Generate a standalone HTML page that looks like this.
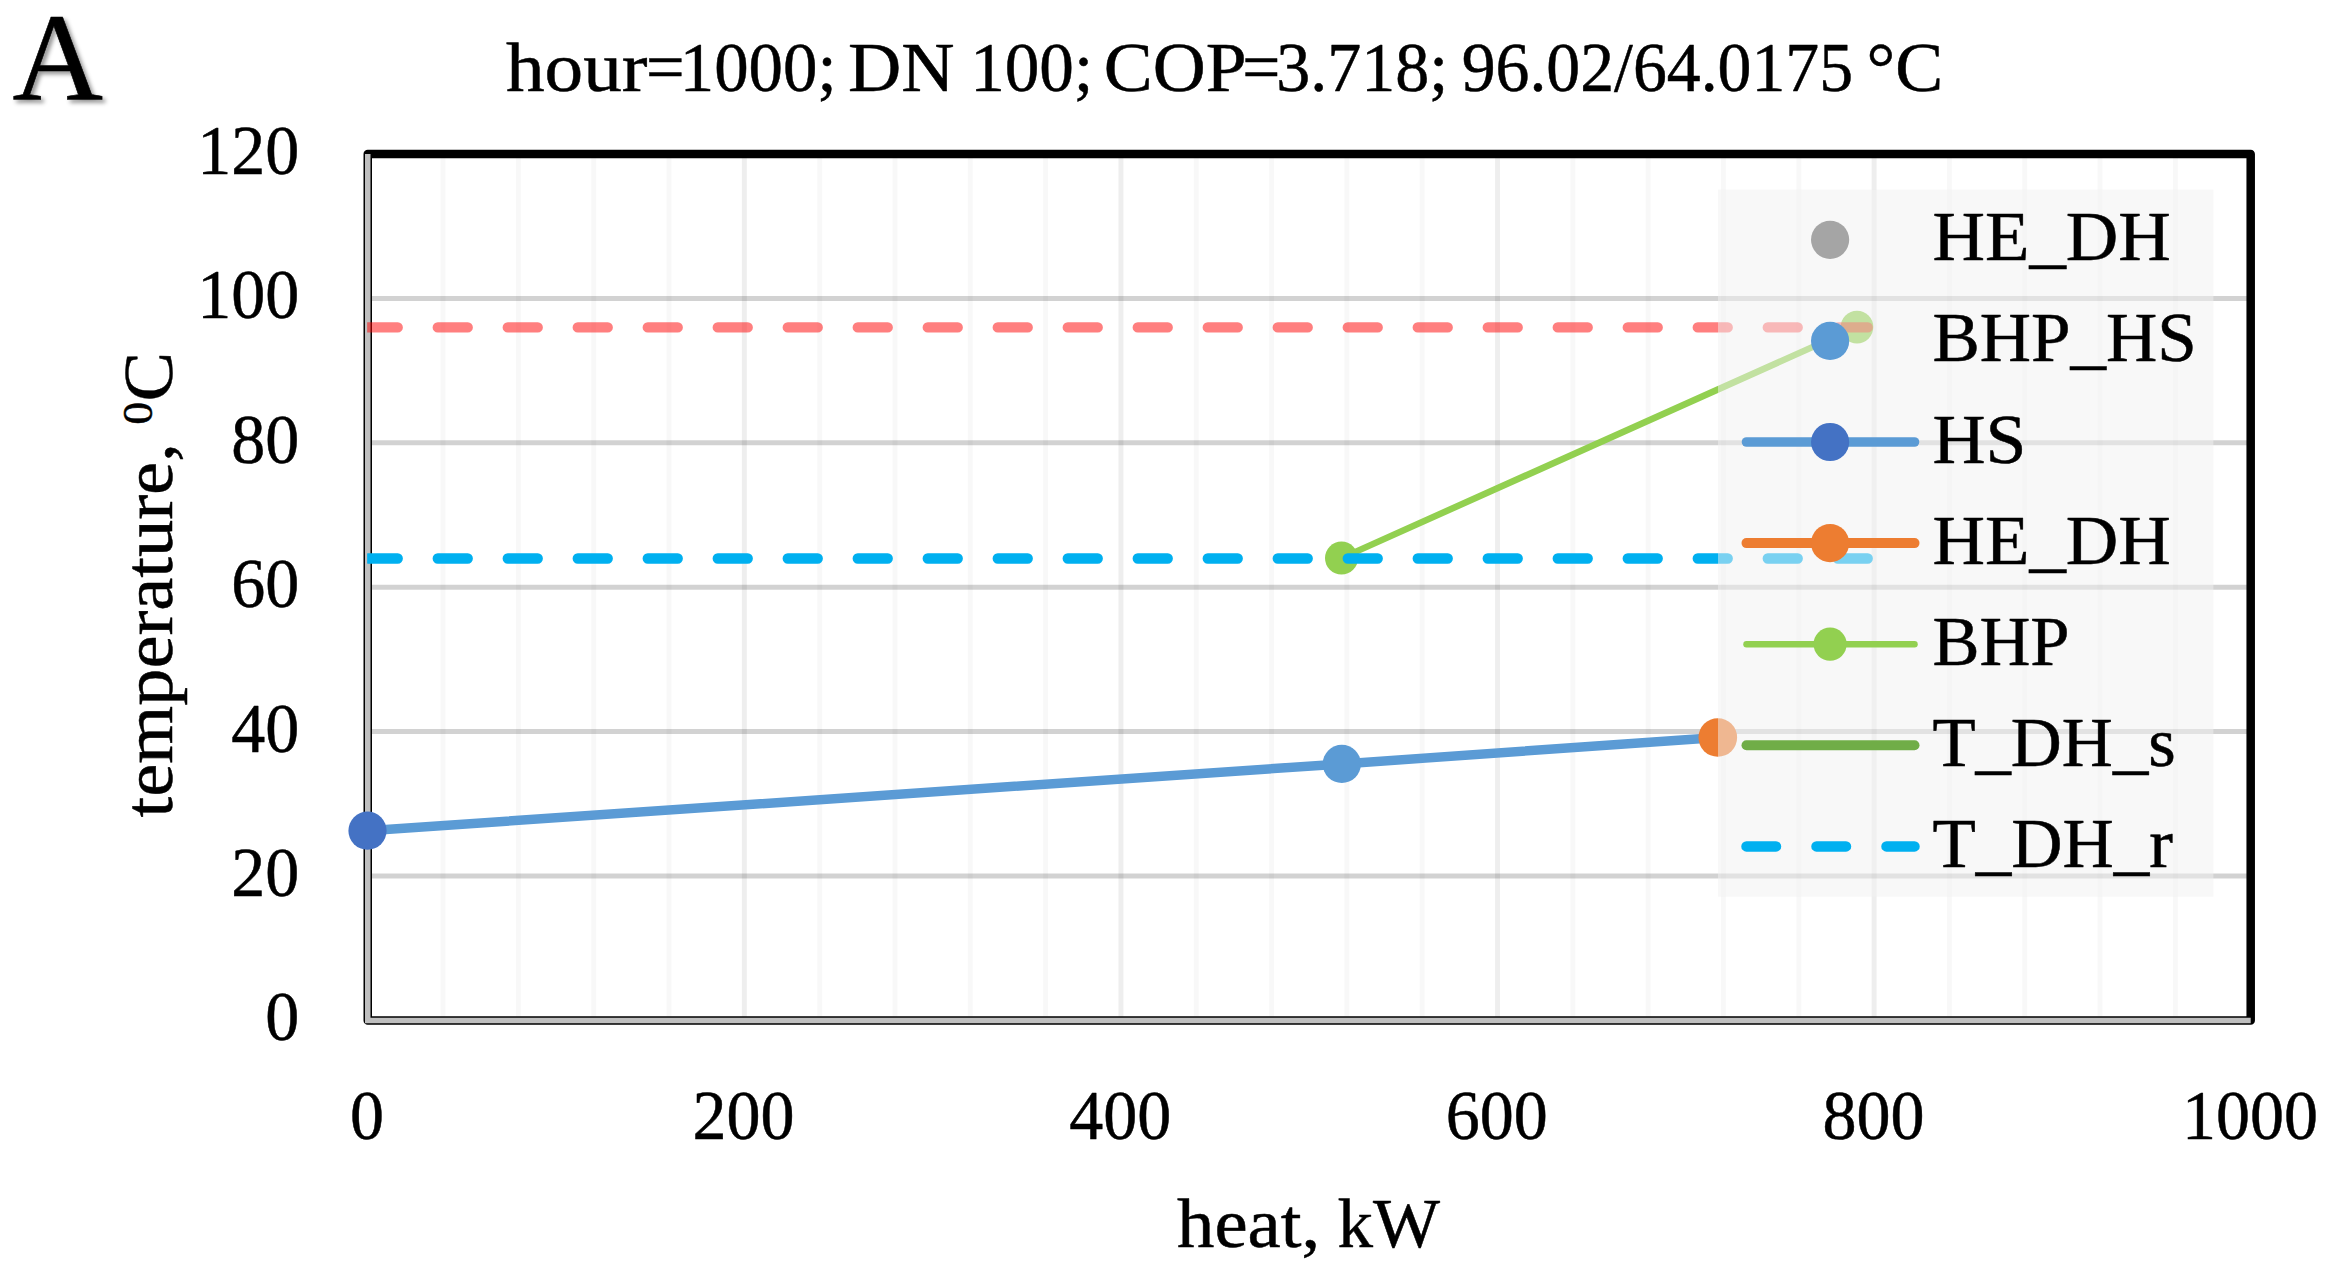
<!DOCTYPE html>
<html lang="en"><head><meta charset="utf-8"><title>hour=1000; DN 100; COP=3.718</title>
<style>html,body{margin:0;padding:0;background:#fff;}body{width:2326px;height:1280px;overflow:hidden;}svg{display:block;}text{font-family:"Liberation Serif","DejaVu Serif",serif;fill:#000;stroke:#000;stroke-width:0.5px;stroke-linejoin:round;}</style>
</head><body>
<svg width="2326" height="1280" viewBox="0 0 2326 1280">
<defs><filter id="sh" x="-20%" y="-20%" width="150%" height="150%"><feDropShadow dx="3" dy="3" stdDeviation="2.2" flood-color="#000" flood-opacity="0.42"/></filter>
<clipPath id="plot"><rect x="367.15" y="154.0" width="1883.5499999999997" height="866.4"/></clipPath></defs>
<rect width="2326" height="1280" fill="#fff"/>
<g id="grid"><line x1="443.07" y1="154.0" x2="443.07" y2="1020.4" stroke="rgba(0,0,0,0.028)" stroke-width="5"/><line x1="518.39" y1="154.0" x2="518.39" y2="1020.4" stroke="rgba(0,0,0,0.028)" stroke-width="5"/><line x1="593.70" y1="154.0" x2="593.70" y2="1020.4" stroke="rgba(0,0,0,0.028)" stroke-width="5"/><line x1="669.02" y1="154.0" x2="669.02" y2="1020.4" stroke="rgba(0,0,0,0.028)" stroke-width="5"/><line x1="744.34" y1="154.0" x2="744.34" y2="1020.4" stroke="rgba(0,0,0,0.068)" stroke-width="5"/><line x1="819.66" y1="154.0" x2="819.66" y2="1020.4" stroke="rgba(0,0,0,0.028)" stroke-width="5"/><line x1="894.98" y1="154.0" x2="894.98" y2="1020.4" stroke="rgba(0,0,0,0.028)" stroke-width="5"/><line x1="970.29" y1="154.0" x2="970.29" y2="1020.4" stroke="rgba(0,0,0,0.028)" stroke-width="5"/><line x1="1045.61" y1="154.0" x2="1045.61" y2="1020.4" stroke="rgba(0,0,0,0.028)" stroke-width="5"/><line x1="1120.93" y1="154.0" x2="1120.93" y2="1020.4" stroke="rgba(0,0,0,0.068)" stroke-width="5"/><line x1="1196.25" y1="154.0" x2="1196.25" y2="1020.4" stroke="rgba(0,0,0,0.028)" stroke-width="5"/><line x1="1271.57" y1="154.0" x2="1271.57" y2="1020.4" stroke="rgba(0,0,0,0.028)" stroke-width="5"/><line x1="1346.88" y1="154.0" x2="1346.88" y2="1020.4" stroke="rgba(0,0,0,0.028)" stroke-width="5"/><line x1="1422.20" y1="154.0" x2="1422.20" y2="1020.4" stroke="rgba(0,0,0,0.028)" stroke-width="5"/><line x1="1497.52" y1="154.0" x2="1497.52" y2="1020.4" stroke="rgba(0,0,0,0.068)" stroke-width="5"/><line x1="1572.84" y1="154.0" x2="1572.84" y2="1020.4" stroke="rgba(0,0,0,0.028)" stroke-width="5"/><line x1="1648.16" y1="154.0" x2="1648.16" y2="1020.4" stroke="rgba(0,0,0,0.028)" stroke-width="5"/><line x1="1723.47" y1="154.0" x2="1723.47" y2="1020.4" stroke="rgba(0,0,0,0.028)" stroke-width="5"/><line x1="1798.79" y1="154.0" x2="1798.79" y2="1020.4" stroke="rgba(0,0,0,0.028)" stroke-width="5"/><line x1="1874.11" y1="154.0" x2="1874.11" y2="1020.4" stroke="rgba(0,0,0,0.068)" stroke-width="5"/><line x1="1949.43" y1="154.0" x2="1949.43" y2="1020.4" stroke="rgba(0,0,0,0.028)" stroke-width="5"/><line x1="2024.75" y1="154.0" x2="2024.75" y2="1020.4" stroke="rgba(0,0,0,0.028)" stroke-width="5"/><line x1="2100.06" y1="154.0" x2="2100.06" y2="1020.4" stroke="rgba(0,0,0,0.028)" stroke-width="5"/><line x1="2175.38" y1="154.0" x2="2175.38" y2="1020.4" stroke="rgba(0,0,0,0.028)" stroke-width="5"/><line x1="2250.70" y1="154.0" x2="2250.70" y2="1020.4" stroke="rgba(0,0,0,0.068)" stroke-width="5"/><line x1="367.75" y1="876.00" x2="2250.7" y2="876.00" stroke="rgba(0,0,0,0.178)" stroke-width="5"/><line x1="367.75" y1="731.60" x2="2250.7" y2="731.60" stroke="rgba(0,0,0,0.178)" stroke-width="5"/><line x1="367.75" y1="587.20" x2="2250.7" y2="587.20" stroke="rgba(0,0,0,0.178)" stroke-width="5"/><line x1="367.75" y1="442.80" x2="2250.7" y2="442.80" stroke="rgba(0,0,0,0.178)" stroke-width="5"/><line x1="367.75" y1="298.40" x2="2250.7" y2="298.40" stroke="rgba(0,0,0,0.178)" stroke-width="5"/></g>
<rect x="367.75" y="154.0" width="1882.9499999999998" height="866.4" fill="none" stroke="#000" stroke-width="8.5" stroke-linejoin="round"/>
<polyline points="367.75,154.0 367.75,1020.4 2250.7,1020.4" fill="none" stroke="#BFBFBF" stroke-width="5.5" stroke-linejoin="miter"/>
<g id="series"><polyline points="367.5,830.7 1341.8,763.9 1717.8,737.5" fill="none" stroke="#5B9BD5" stroke-width="9.5" stroke-linecap="round" stroke-linejoin="round"/><line x1="1341.5" y1="558.1" x2="1857" y2="327.1" stroke="#92D050" stroke-width="6.5" stroke-linecap="round"/><circle cx="1341.5" cy="558.1" r="16.5" fill="#92D050"/><circle cx="1857" cy="327.1" r="16.3" fill="#92D050"/><line clip-path="url(#plot)" x1="367.75" y1="327.4" x2="1874.1" y2="327.4" stroke="#FF0000" stroke-opacity="0.5" stroke-width="10.3" stroke-linecap="round" stroke-dasharray="30 40"/><line clip-path="url(#plot)" x1="367.75" y1="558.5" x2="1874.1" y2="558.5" stroke="#00B0F0" stroke-width="10.3" stroke-linecap="round" stroke-dasharray="30 40"/></g>
<circle cx="1341.8" cy="763.9" r="19.1" fill="#5B9BD5"/>
<circle cx="1717.8" cy="737.5" r="19.3" fill="#ED7D31"/>
<circle cx="367.5" cy="830.7" r="19.1" fill="#4472C4"/>
<rect x="1718" y="189.7" width="495.4000000000001" height="707.0" fill="#F2F2F2" fill-opacity="0.5"/>
<g id="legend-keys"><circle cx="1830.1" cy="239.8" r="19.1" fill="#A5A5A5"/><circle cx="1830.1" cy="340.9" r="19.1" fill="#5B9BD5"/><line x1="1746.5" y1="442.0" x2="1914.5" y2="442.0" stroke="#5B9BD5" stroke-width="9.6" stroke-linecap="round"/><circle cx="1830.1" cy="442.0" r="19.1" fill="#4472C4"/><line x1="1746.5" y1="543.1" x2="1914.5" y2="543.1" stroke="#ED7D31" stroke-width="10" stroke-linecap="round"/><circle cx="1830.1" cy="543.1" r="19.1" fill="#ED7D31"/><line x1="1746.5" y1="644.2" x2="1914.5" y2="644.2" stroke="#92D050" stroke-width="6.5" stroke-linecap="round"/><circle cx="1830.1" cy="644.2" r="16.6" fill="#92D050"/><line x1="1746.5" y1="745.3" x2="1914.5" y2="745.3" stroke="#70AD47" stroke-width="10" stroke-linecap="round"/><line x1="1746.5" y1="846.4" x2="1914.5" y2="846.4" stroke="#00B0F0" stroke-width="10.5" stroke-linecap="round" stroke-dasharray="29.5 40.5"/></g>
<g id="labels"><text id="lg0" x="1932.4" y="260.3" font-size="69.5" textLength="238.5" lengthAdjust="spacingAndGlyphs">HE_DH</text><text id="lg1" x="1932.4" y="361.4" font-size="69.5" textLength="264.3" lengthAdjust="spacingAndGlyphs">BHP_HS</text><text id="lg2" x="1932.4" y="462.5" font-size="69.5" textLength="94" lengthAdjust="spacingAndGlyphs">HS</text><text id="lg3" x="1932.4" y="563.6" font-size="69.5" textLength="238.5" lengthAdjust="spacingAndGlyphs">HE_DH</text><text id="lg4" x="1932.4" y="664.7" font-size="69.5" textLength="137.2" lengthAdjust="spacingAndGlyphs">BHP</text><text id="lg5" x="1932.4" y="765.8" font-size="69.5" textLength="243.3" lengthAdjust="spacingAndGlyphs">T_DH_s</text><text id="lg6" x="1932.4" y="866.9" font-size="69.5" textLength="240.5" lengthAdjust="spacingAndGlyphs">T_DH_r</text><text id="y0" x="299.2" y="1040.3" font-size="69.5" text-anchor="end" textLength="34" lengthAdjust="spacingAndGlyphs">0</text><text id="y20" x="299.2" y="895.9" font-size="69.5" text-anchor="end" textLength="68" lengthAdjust="spacingAndGlyphs">20</text><text id="y40" x="299.2" y="751.5" font-size="69.5" text-anchor="end" textLength="68" lengthAdjust="spacingAndGlyphs">40</text><text id="y60" x="299.2" y="607.1" font-size="69.5" text-anchor="end" textLength="68" lengthAdjust="spacingAndGlyphs">60</text><text id="y80" x="299.2" y="462.7" font-size="69.5" text-anchor="end" textLength="68" lengthAdjust="spacingAndGlyphs">80</text><text id="y100" x="299.2" y="318.3" font-size="69.5" text-anchor="end" textLength="102" lengthAdjust="spacingAndGlyphs">100</text><text id="y120" x="299.2" y="173.9" font-size="69.5" text-anchor="end" textLength="102" lengthAdjust="spacingAndGlyphs">120</text><text id="x0" x="367.1" y="1138.6" font-size="69.5" text-anchor="middle" textLength="34" lengthAdjust="spacingAndGlyphs">0</text><text id="x200" x="743.6" y="1138.6" font-size="69.5" text-anchor="middle" textLength="102" lengthAdjust="spacingAndGlyphs">200</text><text id="x400" x="1120.2" y="1138.6" font-size="69.5" text-anchor="middle" textLength="102" lengthAdjust="spacingAndGlyphs">400</text><text id="x600" x="1496.8" y="1138.6" font-size="69.5" text-anchor="middle" textLength="102" lengthAdjust="spacingAndGlyphs">600</text><text id="x800" x="1873.4" y="1138.6" font-size="69.5" text-anchor="middle" textLength="102" lengthAdjust="spacingAndGlyphs">800</text><text id="x1000" x="2250.0" y="1138.6" font-size="69.5" text-anchor="middle" textLength="136" lengthAdjust="spacingAndGlyphs">1000</text><text id="title" y="90.6" font-size="69.5"><tspan x="505.9" textLength="141.6" lengthAdjust="spacingAndGlyphs">hour</tspan><tspan x="645.9" textLength="38.6" lengthAdjust="spacingAndGlyphs">=</tspan><tspan x="679.8" textLength="156.7" lengthAdjust="spacingAndGlyphs">1000;</tspan> <tspan x="847.9" textLength="106.6" lengthAdjust="spacingAndGlyphs">DN</tspan> <tspan x="970.2" textLength="122.9" lengthAdjust="spacingAndGlyphs">100;</tspan> <tspan x="1103.8" textLength="142.7" lengthAdjust="spacingAndGlyphs">COP</tspan><tspan x="1242.3" textLength="38.1" lengthAdjust="spacingAndGlyphs">=</tspan><tspan x="1276.2" textLength="171.9" lengthAdjust="spacingAndGlyphs">3.718;</tspan> <tspan x="1461.7" textLength="391.4" lengthAdjust="spacingAndGlyphs">96.02/64.0175</tspan> <tspan x="1866.4" textLength="76.7" lengthAdjust="spacingAndGlyphs">°C</tspan></text><text id="xt" y="1247.3" font-size="69.5"><tspan x="1177.1" textLength="143.1" lengthAdjust="spacingAndGlyphs">heat,</tspan> <tspan x="1337.5" textLength="102.5" lengthAdjust="spacingAndGlyphs">kW</tspan></text><text id="yt" transform="translate(171.7,817.5) rotate(-90)" x="0" y="0" font-size="69.5" textLength="465.6" lengthAdjust="spacingAndGlyphs">temperature, <tspan font-size="43" dy="-19.5">0</tspan><tspan dy="19.5">C</tspan></text><text id="A" x="12.4" y="100.3" font-size="125.3" style="stroke-width:0.6px" filter="url(#sh)">A</text></g>
</svg></body></html>
